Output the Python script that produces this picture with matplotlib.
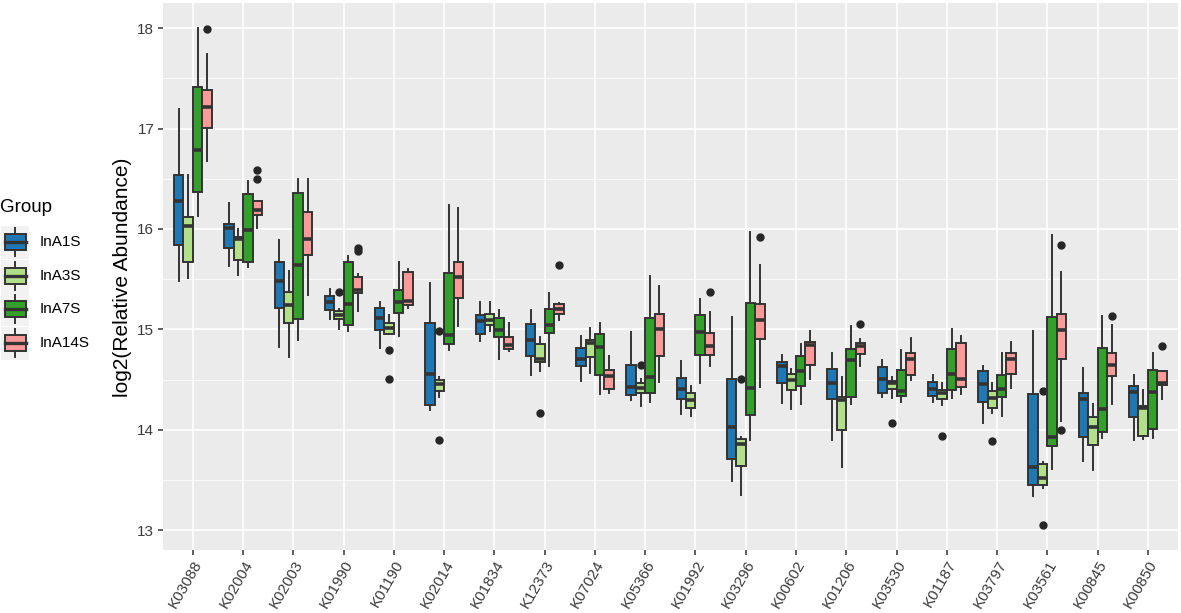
import matplotlib
matplotlib.use("Agg")
import matplotlib.pyplot as plt
from matplotlib.patches import Rectangle
from matplotlib.lines import Line2D

plt.rcParams['font.family'] = ['Liberation Sans', 'DejaVu Sans']

categories = ["K03088", "K02004", "K02003", "K01990", "K01190", "K02014", "K01834",
              "K12373", "K07024", "K05366", "K01992", "K03296", "K00602", "K01206",
              "K03530", "K01187", "K03797", "K03561", "K00845", "K00850"]
groups = ["InA1S", "InA3S", "InA7S", "InA14S"]
colors = ["#1F78B4", "#B2DF8A", "#33A02C", "#FB9A99"]

# ---- InA1S ----
a1_lo  = [15.48, 15.63, 14.82, 15.10, 14.81, 14.20, 14.88, 14.55, 14.49, 14.30, 14.16, 13.49, 14.27, 13.90, 14.33, 14.28, 14.07, 13.34, 13.69, 13.90]
a1_q1  = [15.84, 15.81, 15.21, 15.19, 14.99, 14.25, 14.95, 14.73, 14.64, 14.35, 14.31, 13.71, 14.47, 14.31, 14.37, 14.34, 14.28, 13.45, 13.93, 14.13]
a1_med = [16.28, 16.01, 15.48, 15.27, 15.11, 14.56, 15.08, 14.89, 14.70, 14.43, 14.41, 14.03, 14.64, 14.47, 14.51, 14.41, 14.46, 13.63, 14.31, 14.38]
a1_q3  = [16.54, 16.05, 15.67, 15.33, 15.21, 15.06, 15.14, 15.05, 14.81, 14.65, 14.52, 14.51, 14.67, 14.61, 14.63, 14.48, 14.59, 14.36, 14.37, 14.44]
a1_hi  = [17.19, 16.26, 15.89, 15.40, 15.27, 15.46, 15.27, 15.19, 14.93, 14.97, 14.68, 15.12, 14.74, 14.76, 14.69, 14.55, 14.64, 14.98, 14.62, 14.55]
a1_out = [[] for _ in range(20)]

# ---- InA3S ----
a3_lo  = [15.51, 15.54, 14.72, 15.00, 14.95, 14.33, 14.98, 14.59, 14.57, 14.24, 14.14, 13.35, 14.21, 13.63, 14.32, 14.25, 14.17, 13.42, 13.60, 13.91]
a3_q1  = [15.67, 15.69, 15.06, 15.10, 14.95, 14.39, 15.04, 14.67, 14.72, 14.37, 14.22, 13.64, 14.40, 14.00, 14.41, 14.31, 14.22, 13.45, 13.85, 13.94]
a3_med = [16.03, 15.90, 15.24, 15.14, 15.01, 14.46, 15.09, 14.70, 14.86, 14.42, 14.30, 13.86, 14.50, 14.30, 14.47, 14.37, 14.32, 13.52, 14.03, 14.22]
a3_q3  = [16.12, 15.92, 15.37, 15.18, 15.06, 14.50, 15.15, 14.85, 14.89, 14.47, 14.37, 13.91, 14.56, 14.33, 14.49, 14.40, 14.39, 13.66, 14.13, 14.24]
a3_hi  = [16.54, 16.00, 15.58, 15.20, 15.14, 14.53, 15.27, 14.92, 15.01, 14.51, 14.44, 13.93, 14.61, 14.53, 14.53, 14.47, 14.47, 13.68, 14.26, 14.40]
a3_out = [[], [], [], [15.37], [14.79, 14.51], [14.98, 13.90], [], [14.17], [], [14.65],
          [], [14.51], [], [], [14.07], [13.94], [13.89], [14.39, 13.05], [], []]

# ---- InA7S ----
a7_lo  = [16.13, 15.62, 14.89, 14.98, 14.93, 14.79, 14.70, 14.64, 14.36, 14.28, 14.47, 13.90, 14.26, 14.26, 14.28, 14.32, 14.14, 13.61, 13.92, 13.92]
a7_q1  = [16.37, 15.67, 15.10, 15.04, 15.16, 14.85, 14.92, 14.96, 14.55, 14.37, 14.74, 14.15, 14.44, 14.33, 14.34, 14.40, 14.33, 13.84, 13.98, 14.01]
a7_med = [16.79, 15.99, 15.64, 15.25, 15.27, 14.94, 14.99, 15.04, 14.82, 14.53, 14.97, 14.42, 14.59, 14.69, 14.39, 14.56, 14.41, 13.93, 14.21, 14.38]
a7_q3  = [17.41, 16.35, 16.36, 15.67, 15.39, 15.56, 15.11, 15.20, 14.95, 15.11, 15.14, 15.26, 14.73, 14.80, 14.60, 14.80, 14.55, 15.12, 14.81, 14.60]
a7_hi  = [18.00, 16.48, 16.50, 15.73, 15.67, 16.24, 15.19, 15.36, 15.06, 15.53, 15.30, 15.97, 14.85, 15.03, 14.79, 15.00, 14.76, 15.94, 15.13, 14.76]
a7_out = [[] for _ in range(20)]

# ---- InA14S ----
a14_lo  = [16.68, 16.01, 15.34, 15.18, 15.21, 15.03, 14.78, 15.09, 14.37, 14.48, 14.64, 14.43, 14.51, 14.64, 14.50, 14.36, 14.42, 14.09, 14.26, 14.31]
a14_q1  = [17.01, 16.14, 15.74, 15.36, 15.24, 15.31, 14.80, 15.15, 14.41, 14.73, 14.74, 14.90, 14.65, 14.75, 14.55, 14.43, 14.56, 14.70, 14.54, 14.45]
a14_med = [17.21, 16.19, 15.90, 15.39, 15.28, 15.52, 14.84, 15.20, 14.54, 15.00, 14.83, 15.09, 14.84, 14.83, 14.70, 14.51, 14.70, 14.99, 14.65, 14.47]
a14_q3  = [17.38, 16.28, 16.17, 15.52, 15.57, 15.67, 14.92, 15.25, 14.60, 15.15, 14.96, 15.25, 14.87, 14.86, 14.76, 14.86, 14.76, 15.15, 14.76, 14.59]
a14_hi  = [17.74, 16.28, 16.50, 15.55, 15.60, 16.21, 15.06, 15.26, 14.73, 15.43, 15.17, 15.64, 14.98, 14.90, 14.91, 14.93, 14.87, 15.57, 15.04, 14.59]
a14_out = [[17.99], [16.59, 16.50], [], [15.81, 15.78], [], [], [], [15.64], [], [],
           [15.37], [15.92], [], [15.05], [], [], [], [15.84, 14.00], [15.13], [14.83]]

series = [
    (a1_lo, a1_q1, a1_med, a1_q3, a1_hi, a1_out),
    (a3_lo, a3_q1, a3_med, a3_q3, a3_hi, a3_out),
    (a7_lo, a7_q1, a7_med, a7_q3, a7_hi, a7_out),
    (a14_lo, a14_q1, a14_med, a14_q3, a14_hi, a14_out),
]

W, H = 1181, 613
fig = plt.figure(figsize=(W / 100, H / 100), dpi=100)
left, right, top, bottom = 162.7, 1178.0, 3.3, 550.0
ax = fig.add_axes([left / W, 1 - bottom / H, (right - left) / W, (bottom - top) / H])
ax.set_facecolor("#EBEBEB")
for s in ax.spines.values():
    s.set_visible(False)

ax.set_xlim(0.4, len(categories) + 0.6)
ax.set_ylim(12.8025, 18.2475)
ax.set_yticks([13, 14, 15, 16, 17, 18])
ax.set_yticks([13.5, 14.5, 15.5, 16.5, 17.5], minor=True)
ax.set_xticks(range(1, len(categories) + 1))
ax.set_xticklabels(categories, rotation=60, ha="right", va="top", rotation_mode="anchor")
ax.grid(True, which="major", color="white", linewidth=1.2)
ax.grid(True, which="minor", axis="y", color="white", linewidth=0.6)
ax.set_axisbelow(True)
ax.tick_params(axis="both", which="major", length=3.5, width=1.1, color="#333333",
               labelsize=11, labelcolor="#3A3A3A", pad=2.5)
ax.tick_params(axis="y", which="minor", length=0)

dodge = 0.75 / 4
offsets = [-1.5 * dodge, -0.5 * dodge, 0.5 * dodge, 1.5 * dodge]
edge = "#333333"
for gi, (lo, q1, med, q3, hi, out) in enumerate(series):
    stats = []
    for i in range(len(categories)):
        stats.append(dict(whislo=lo[i], q1=q1[i], med=med[i], q3=q3[i], whishi=hi[i],
                          fliers=out[i]))
    pos = [i + 1 + offsets[gi] for i in range(len(categories))]
    ax.bxp(stats, positions=pos, widths=dodge, patch_artist=True, showcaps=False,
           manage_ticks=False,
           boxprops=dict(facecolor=colors[gi], edgecolor=edge, linewidth=1.4),
           medianprops=dict(color=edge, linewidth=2.6, solid_capstyle="butt"),
           whiskerprops=dict(color=edge, linewidth=1.4),
           flierprops=dict(marker="o", markerfacecolor="#262626", markeredgecolor="#262626",
                           markersize=5.0, linestyle="none"))

fig.text(123 / W, 1 - 277 / H, "log2(Relative Abundance)", rotation=90,
         ha="center", va="center", fontsize=15, color="black")

# legend (drawn in pixel coordinates of the figure)
def px(x, y):
    return x / W, 1 - y / H

fig.text(*px(0, 207), "Group", ha="left", va="center", fontsize=13.5, color="black")
rows = [242, 276, 309, 343]
for gi, yc in enumerate(rows):
    x0, y0 = px(1.5, yc + 16.5)
    fig.add_artist(Rectangle((x0, y0), 27 / W, 33 / H, transform=fig.transFigure,
                             facecolor="#F2F2F2", edgecolor="none"))
    bx, by = px(4.5, yc + 8)
    fig.add_artist(Rectangle((bx, by), 21 / W, 16 / H, transform=fig.transFigure,
                             facecolor=colors[gi], edgecolor=edge, linewidth=1.4))
    xm = 15 / W
    fig.add_artist(Line2D([px(4.5, 0)[0], px(25.5, 0)[0]], [px(0, yc)[1]] * 2,
                          transform=fig.transFigure, color=edge, linewidth=2.4))
    fig.add_artist(Line2D([xm, xm], [px(0, yc - 8)[1], px(0, yc - 14)[1]],
                          transform=fig.transFigure, color=edge, linewidth=1.4))
    fig.add_artist(Line2D([xm, xm], [px(0, yc + 8)[1], px(0, yc + 14)[1]],
                          transform=fig.transFigure, color=edge, linewidth=1.4))
    fig.text(*px(40, yc), groups[gi], ha="left", va="center", fontsize=11, color="black")

fig.savefig("out.png", dpi=100, facecolor="white")
